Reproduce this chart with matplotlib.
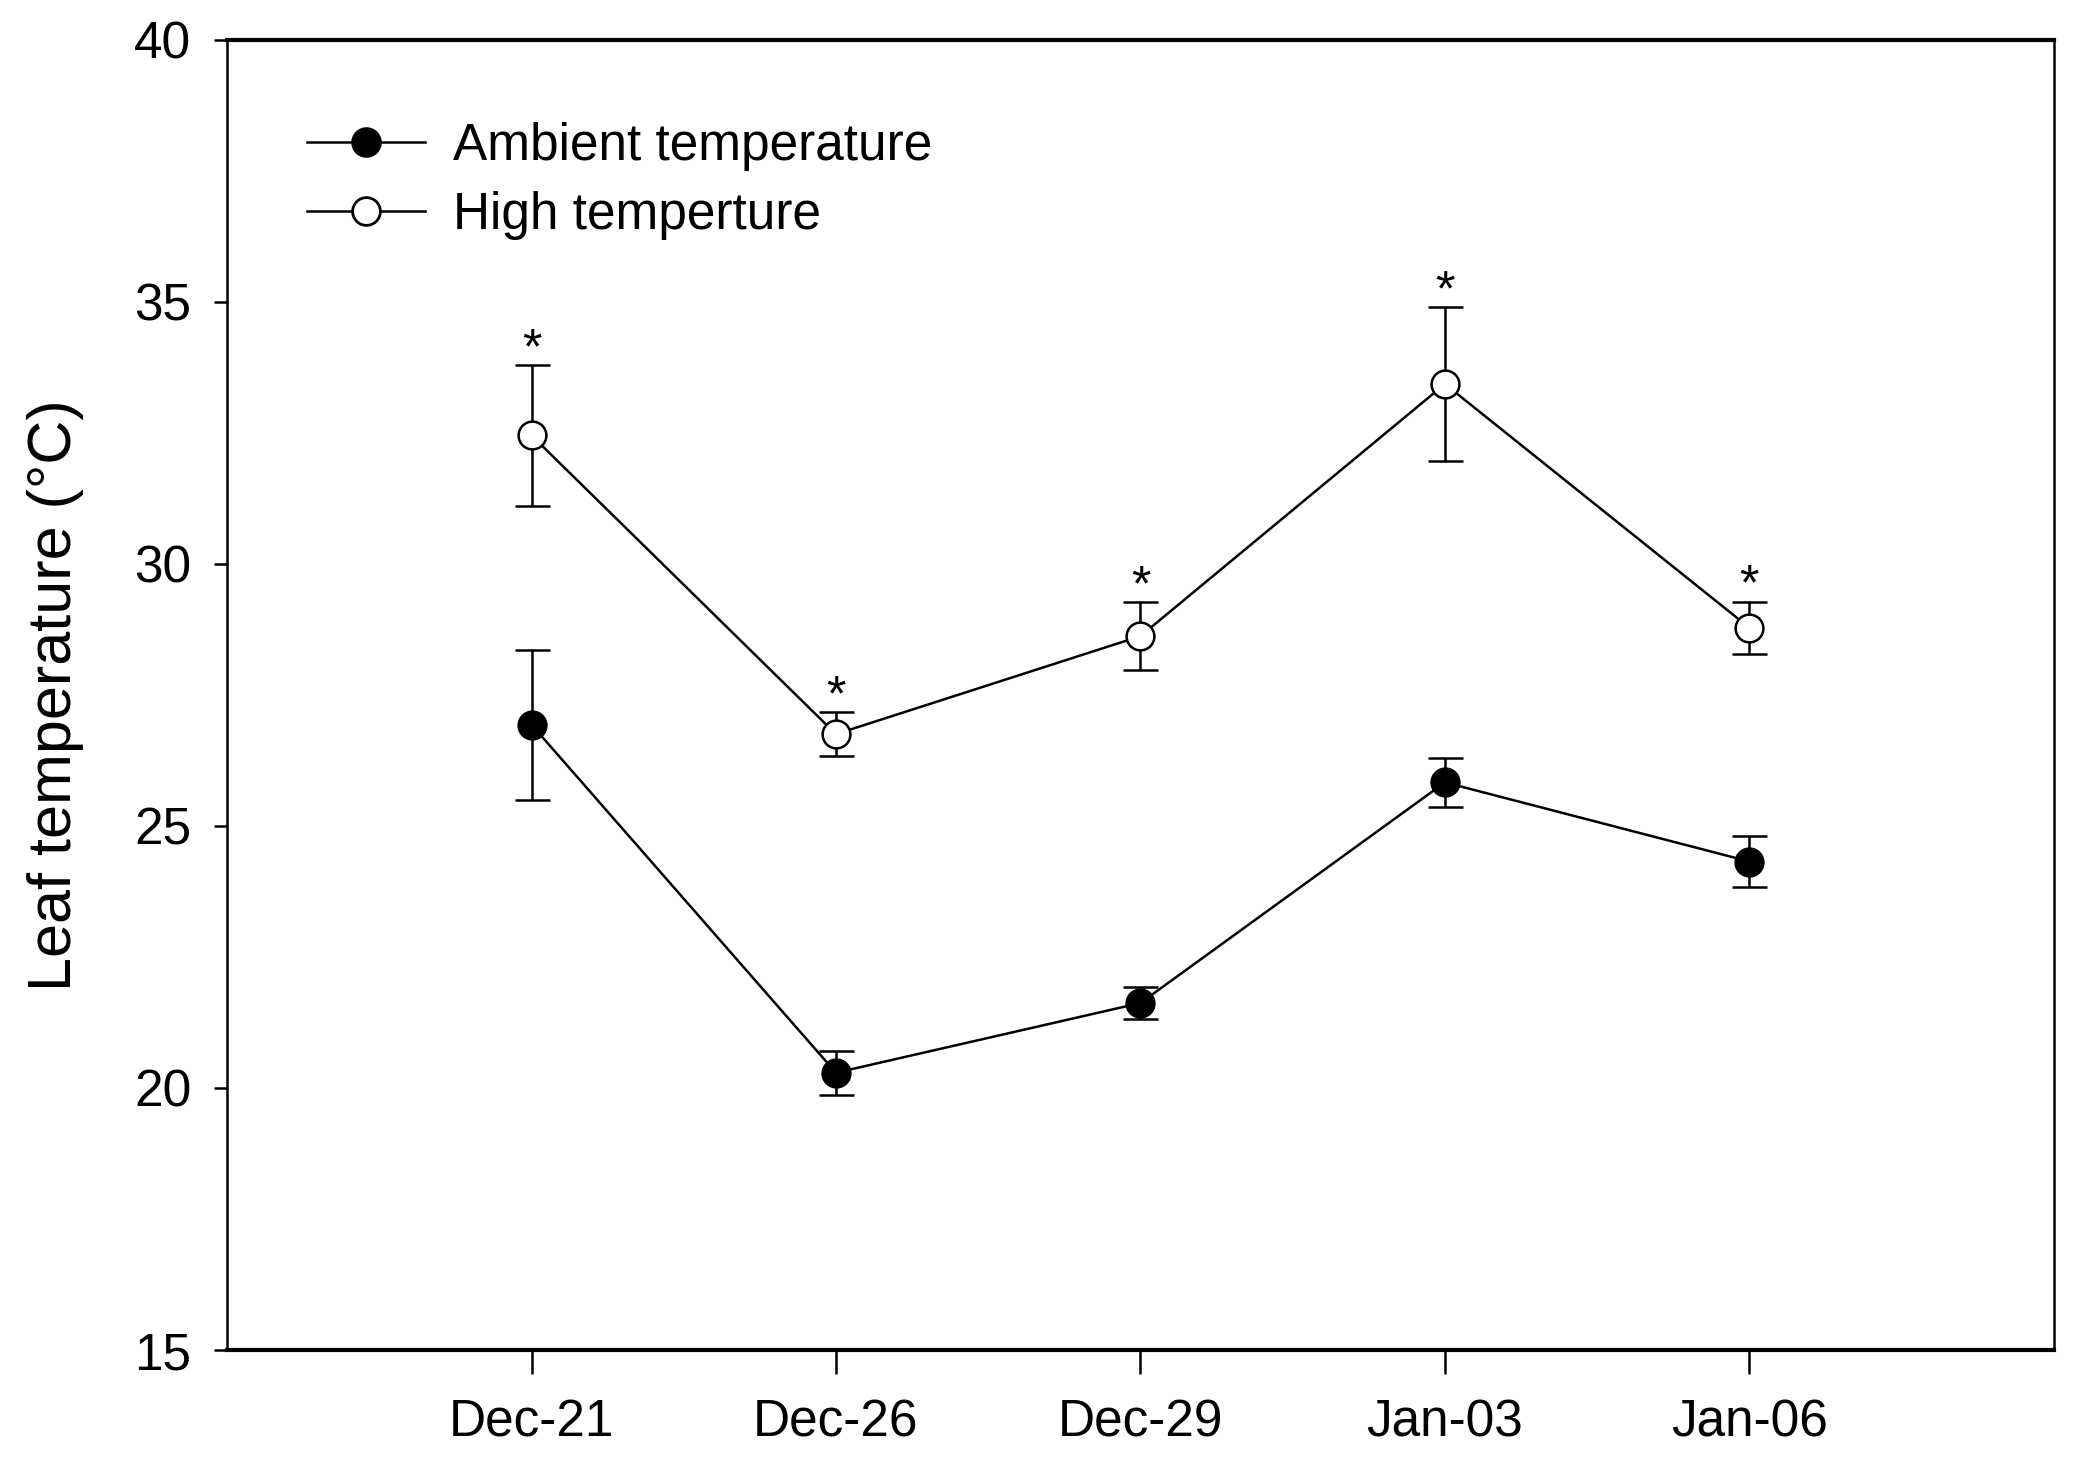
import numpy as np
import matplotlib
matplotlib.use("Agg")
import matplotlib.pyplot as plt
from matplotlib.lines import Line2D

plt.rcParams['font.family'] = ['Liberation Sans', 'DejaVu Sans']

# Sampling dates
dates = ["Dec-21", "Dec-26", "Dec-29", "Jan-03", "Jan-06"]

# Leaf temperature (mean and error)
ambient_mean = [26.93, 20.29, 21.62, 25.83, 24.32]
ambient_err = [1.43, 0.42, 0.30, 0.47, 0.48]
high_mean = [32.45, 26.75, 28.62, 33.43, 28.78]
high_err = [1.35, 0.42, 0.65, 1.46, 0.50]
signif = ["*", "*", "*", "*", "*"]

x = np.arange(1, len(dates) + 1)

fig = plt.figure(figsize=(2083 / 200, 1469 / 200), dpi=200)
ax = fig.add_axes([0.109, 0.081, 0.877, 0.892])

ax.errorbar(x, ambient_mean, yerr=ambient_err, color="black", lw=0.9,
            marker="o", ms=10, mfc="black", mec="black", mew=0.9,
            capsize=6.3, capthick=1.6, elinewidth=0.9)
ax.errorbar(x, high_mean, yerr=high_err, color="black", lw=0.9,
            marker="o", ms=10, mfc="white", mec="black", mew=0.9,
            capsize=6.3, capthick=1.6, elinewidth=0.9)

# significance marks above the high-temperature error bars
for xi, m, e, s in zip(x, high_mean, high_err, signif):
    ax.annotate(s, (xi, m + e), xytext=(0, -3), textcoords="offset points",
                ha="center", va="bottom", fontsize=18)

ax.set_xlim(0, 6)
ax.set_ylim(15, 40)
ax.set_xticks(x)
ax.set_xticklabels(dates)
ax.set_yticks([15, 20, 25, 30, 35, 40])
ax.set_ylabel("Leaf temperature (°C)", fontsize=22, labelpad=18)

ax.tick_params(axis="x", direction="out", length=8.5, width=0.9, pad=9, labelsize=18.5)
ax.tick_params(axis="y", direction="out", length=4.8, width=0.9, pad=8, labelsize=18.5)

for side in ["top", "bottom"]:
    ax.spines[side].set_linewidth(1.5)
for side in ["left", "right"]:
    ax.spines[side].set_linewidth(0.9)

handles = [
    Line2D([], [], color="black", lw=0.9, marker="o", ms=10, mfc="black", mec="black"),
    Line2D([], [], color="black", lw=0.9, marker="o", ms=10, mfc="white", mec="black"),
]
labels = ["Ambient temperature", "High temperture"]
ax.legend(handles, labels, loc="upper left", bbox_to_anchor=(0.0437, 0.937),
          frameon=False, fontsize=18.5, handlelength=2.3, handletextpad=0.55,
          labelspacing=0.38, borderpad=0, borderaxespad=0)

plt.savefig("out.png", dpi=200)
